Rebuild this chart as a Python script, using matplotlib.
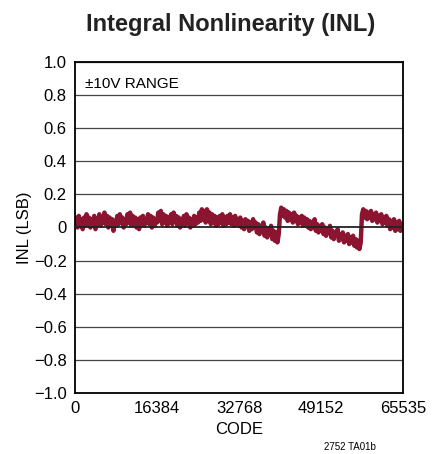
import numpy as np
import matplotlib
matplotlib.use("Agg")
import matplotlib.pyplot as plt

inl = [
    0.01, 0.06, 0.00, 0.07, 0.02, 0.05, -0.01, 0.06, 0.01, 0.08, 0.02, 0.06, 0.00, 0.05, 0.01, 0.07,
    -0.01, 0.05, 0.02, 0.08, 0.01, 0.06, 0.03, 0.09, 0.02, 0.07, 0.00, 0.06, 0.01, 0.05, -0.02, 0.04,
    0.01, 0.07, 0.02, 0.08, 0.03, 0.06, 0.00, 0.05, 0.02, 0.08, 0.03, 0.09, 0.01, 0.07, 0.02, 0.06,
    0.00, 0.05, -0.01, 0.06, 0.02, 0.07, 0.01, 0.05, 0.03, 0.08, 0.02, 0.07, 0.00, 0.06, 0.01, 0.05,
    0.03, 0.09, 0.04, 0.10, 0.02, 0.08, 0.03, 0.07, 0.01, 0.06, 0.03, 0.08, 0.02, 0.09, 0.04, 0.07,
    0.01, 0.06, 0.00, 0.05, 0.02, 0.07, 0.01, 0.08, 0.03, 0.06, 0.00, 0.05, 0.01, 0.07, 0.02, 0.06,
    0.03, 0.09, 0.04, 0.11, 0.05, 0.10, 0.03, 0.11, 0.04, 0.09, 0.02, 0.08, 0.03, 0.07, 0.01, 0.06,
    0.02, 0.07, 0.03, 0.08, 0.01, 0.06, 0.02, 0.07, 0.03, 0.08, 0.02, 0.06, 0.01, 0.07, 0.02, 0.05,
    0.01, 0.06, 0.00, 0.04, -0.01, 0.05, 0.01, 0.04, -0.02, 0.03, -0.01, 0.05, 0.00, 0.03, -0.03, 0.02,
    -0.04, 0.01, -0.02, 0.03, -0.05, 0.00, -0.06, -0.01, -0.03, 0.01, -0.07, -0.02, -0.08, -0.03, -0.09, -0.04,
    0.08, 0.12, 0.07, 0.11, 0.06, 0.10, 0.04, 0.09, 0.05, 0.08, 0.03, 0.09, 0.04, 0.07, 0.02, 0.06,
    0.03, 0.07, 0.01, 0.06, 0.02, 0.05, 0.00, 0.04, -0.01, 0.03, 0.00, 0.05, -0.02, 0.02, -0.03, 0.01,
    -0.02, 0.02, -0.04, 0.00, -0.05, -0.01, -0.03, 0.01, -0.06, -0.02, -0.07, -0.03, -0.05, -0.01, -0.08, -0.04,
    -0.07, -0.03, -0.09, -0.05, -0.08, -0.04, -0.10, -0.06, -0.09, -0.05, -0.11, -0.07, -0.12, -0.08, -0.13, -0.09,
    0.08, 0.11, 0.06, 0.10, 0.05, 0.09, 0.06, 0.10, 0.04, 0.08, 0.05, 0.09, 0.03, 0.07, 0.04, 0.08,
    0.02, 0.06, 0.03, 0.07, 0.01, 0.05, -0.01, 0.04, 0.00, 0.05, -0.02, 0.03, -0.01, 0.04, -0.02, 0.02,
    0.01,
]
codes = np.linspace(0, 65535, len(inl))

x_ticks = [0, 16384, 32768, 49152, 65535]
y_ticks = [-1.0, -0.8, -0.6, -0.4, -0.2, 0.0, 0.2, 0.4, 0.6, 0.8, 1.0]
y_labels = ["\u22121.0", "\u22120.8", "\u22120.6", "\u22120.4", "\u22120.2", "0", "0.2", "0.4", "0.6", "0.8", "1.0"]

plt.rcParams['font.family'] = ["Liberation Sans", "DejaVu Sans"]

fig = plt.figure(figsize=(4.35, 4.54), dpi=100)
ax = fig.add_axes([75/435, 1 - 393/454, (403-75)/435, (393-62)/454])

for y in y_ticks:
    if y == 0:
        ax.axhline(y, color="#222222", lw=1.3, zorder=3)
    else:
        ax.axhline(y, color="#444444", lw=0.9, zorder=1)

ax.plot(codes, inl, color="#8B1530", lw=3.2, solid_joinstyle="round", zorder=2)

ax.set_xlim(0, 65535)
ax.set_ylim(-1.0, 1.0)
ax.set_xticks(x_ticks)
ax.set_xticklabels([str(t) for t in x_ticks], fontsize=12)
ax.set_yticks(y_ticks)
ax.set_yticklabels(y_labels, fontsize=12)
ax.tick_params(length=0, pad=6)
for s in ax.spines.values():
    s.set_linewidth(1.3)
    s.set_color("black")

ax.set_xlabel("CODE", fontsize=12, labelpad=4)
ax.set_ylabel("INL (LSB)", fontsize=12, labelpad=1)
ax.text(0.03, 0.955, "\u00b110V RANGE", transform=ax.transAxes, fontsize=11, va="top", ha="left")

fig.text(0.53, 1 - 25/454, "Integral Nonlinearity (INL)", fontsize=17, fontweight="bold",
         ha="center", va="center", color="#222222")
fig.text(350/435, 1 - 447/454, "2752 TA01b", fontsize=7, ha="center", va="center")

fig.savefig("out.png", dpi=100)
